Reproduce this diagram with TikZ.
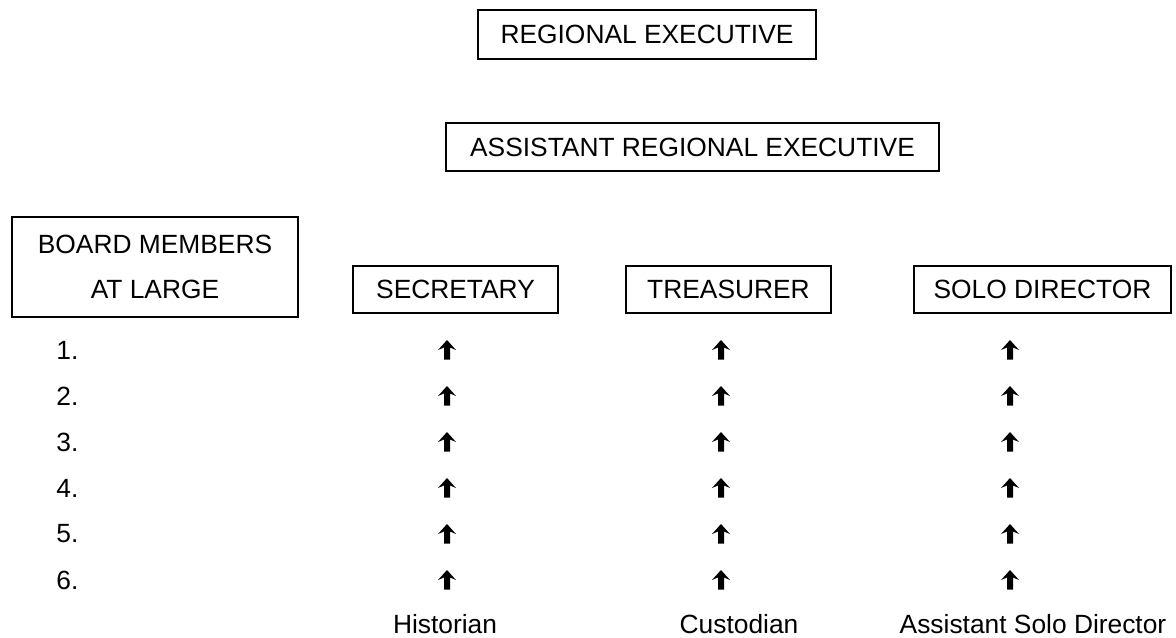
\documentclass[tikz,border=0pt]{standalone}
\usepackage{fontspec}
\setmainfont{Liberation Sans}
\usepackage{tikz}
\usetikzlibrary{positioning}
\tikzstyle{block} = [rectangle, draw, line width=1.1pt, inner sep=0pt, align=center, minimum height=0.94cm]
\tikzstyle{txt} = [inner sep=0pt]
% small solid up arrow
\newcommand{\uparr}[2]{\fill (#1,{#2}) ++(0,-10) -- ++(9,10) -- ++(-6,-2.5) -- ++(0,12) -- ++(-6,0) -- ++(0,-12) -- ++(-6,2.5) -- cycle;}

\begin{document}
\begin{tikzpicture}[x=0.02cm, y=-0.02cm, font=\fontsize{15}{18}\selectfont]
   \useasboundingbox (0,0) rectangle (1176,637);
   \node[block, minimum width=6.76cm, minimum height=0.98cm] (re)  at (647,34.5)  {REGIONAL EXECUTIVE};
   \node[block, minimum width=9.86cm, minimum height=0.96cm] (are) at (692.5,147) {ASSISTANT REGIONAL EXECUTIVE};
   \node[block, minimum width=5.72cm, minimum height=2cm]    (bm)  at (155,267)   {BOARD MEMBERS\\[8pt]AT LARGE};
   \node[block, minimum width=4.1cm]  (sec)  at (455.5,289.5)  {SECRETARY};
   \node[block, minimum width=4.1cm]  (tre)  at (728.5,289.5)  {TREASURER};
   \node[block, minimum width=5.14cm] (solo) at (1042.5,289.5) {SOLO DIRECTOR};
   % numbered places under the board
   \foreach \i in {1,...,6}
      \node[txt, anchor=west] (num\i) at (56,{350+46*(\i-1)}) {\i.};
   % arrows up to each officer
   \foreach \i in {1,...,6} {
      \foreach \x in {447,721,1010} {
         \uparr{\x}{350+46*(\i-1)}
      }
   }
   \node[txt] (hist) at (445,624)  {Historian};
   \node[txt] (cust) at (739,624)  {Custodian};
   \node[txt] (asd)  at (1033,624) {Assistant Solo Director};
  \end{tikzpicture}
\end{document}
